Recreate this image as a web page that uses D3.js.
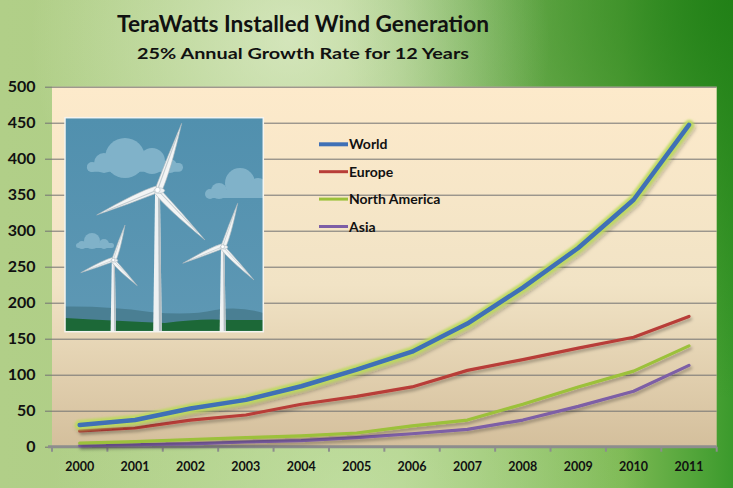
<!DOCTYPE html>
<html>
<head>
<meta charset="utf-8">
<script src="https://cdn.jsdelivr.net/npm/d3@7"></script>
<style>
    html, body { margin: 0; padding: 0; overflow: hidden; }
    svg { display: block; }
</style>
</head>
<body>
<svg id="chart_svg" width="733" height="488"></svg>
<script>
// Data
var years = ['2000', '2001', '2002', '2003', '2004', '2005', '2006', '2007', '2008', '2009', '2010', '2011'];
var world = [30, 37, 53, 65, 84, 107, 132, 171, 221, 276, 343, 447];
var europe = [22, 26, 37, 44, 59, 70, 83, 106, 121, 137, 152, 181];
var northAmerica = [5, 7, 10, 12.5, 15, 19, 29, 37, 59, 83, 105, 140];
var asia = [1.5, 3, 4, 6.5, 8.5, 12.5, 18, 24, 37, 56, 77, 113];
var yTicks = [0, 50, 100, 150, 200, 250, 300, 350, 400, 450, 500];
var seriesNames = ['World', 'Europe', 'North America', 'Asia'];
var titleText = 'TeraWatts Installed Wind Generation';
var subtitleText = '25% Annual Growth Rate for 12 Years';

var FONT = "Lato, 'Open Sans', sans-serif";

drawChart();

function drawChart(){
    // - - - - layout - - - -
    var W = 733, H = 488;
    var plot = {left: 52, right: 716.7, top: 86.7, bottom: 446.7};
    var colors = {
        'World': '#3f70b6',
        'Europe': '#b83e38',
        'North America': '#9cc13a',
        'Asia': '#7d5ea6'
    };
    var seriesValues = {
        'World': world,
        'Europe': europe,
        'North America': northAmerica,
        'Asia': asia
    };
    // - - - - - - - - - - -

    var svg = d3.select('#chart_svg');
    var defs = svg.append('defs');

    // background gradients
    var bg = defs.append('linearGradient').attr('id', 'bgBase')
        .attr('x1', 0).attr('y1', 0).attr('x2', 1).attr('y2', 0);
    bg.append('stop').attr('offset', 0).attr('stop-color', '#b1cf88');
    bg.append('stop').attr('offset', 0.55).attr('stop-color', '#aacd82');
    bg.append('stop').attr('offset', 0.85).attr('stop-color', '#7cb953');
    bg.append('stop').attr('offset', 1).attr('stop-color', '#3b9a2c');

    var dark = defs.append('radialGradient').attr('id', 'bgDark')
        .attr('gradientUnits', 'userSpaceOnUse')
        .attr('cx', 740).attr('cy', 0).attr('r', 400);
    dark.append('stop').attr('offset', 0).attr('stop-color', '#1e7d14').attr('stop-opacity', 0.9);
    dark.append('stop').attr('offset', 1).attr('stop-color', '#1e7d14').attr('stop-opacity', 0);

    var light = defs.append('radialGradient').attr('id', 'bgLight')
        .attr('gradientUnits', 'userSpaceOnUse')
        .attr('cx', 290).attr('cy', 40).attr('r', 260);
    light.append('stop').attr('offset', 0).attr('stop-color', '#eef5df').attr('stop-opacity', 0.6);
    light.append('stop').attr('offset', 1).attr('stop-color', '#eef5df').attr('stop-opacity', 0);

    var light2 = defs.append('radialGradient').attr('id', 'bgLight2')
        .attr('gradientUnits', 'userSpaceOnUse')
        .attr('cx', 350).attr('cy', 500).attr('r', 300);
    light2.append('stop').attr('offset', 0).attr('stop-color', '#d8efc0').attr('stop-opacity', 0.45);
    light2.append('stop').attr('offset', 1).attr('stop-color', '#d8efc0').attr('stop-opacity', 0);

    // plot area gradient
    var pg = defs.append('linearGradient').attr('id', 'plotBg')
        .attr('x1', 0).attr('y1', 0).attr('x2', 0).attr('y2', 1);
    pg.append('stop').attr('offset', 0).attr('stop-color', '#fdeacb');
    pg.append('stop').attr('offset', 0.55).attr('stop-color', '#f1e3c5');
    pg.append('stop').attr('offset', 1).attr('stop-color', '#d4bf9c');

    // line shadow
    var sh = defs.append('filter').attr('id', 'lineShadow')
        .attr('x', '-10%').attr('y', '-10%').attr('width', '130%').attr('height', '130%');
    sh.append('feDropShadow').attr('dx', 1.5).attr('dy', 2.5)
        .attr('stdDeviation', 1.8).attr('flood-color', '#000').attr('flood-opacity', 0.3);

    var glow = defs.append('filter').attr('id', 'glow')
        .attr('x', '-10%').attr('y', '-10%').attr('width', '130%').attr('height', '130%');
    glow.append('feGaussianBlur').attr('stdDeviation', 1);

    svg.append('rect').attr('width', W).attr('height', H).attr('fill', 'url(#bgBase)');
    svg.append('rect').attr('width', W).attr('height', H).attr('fill', 'url(#bgDark)');
    svg.append('rect').attr('width', W).attr('height', H).attr('fill', 'url(#bgLight)');
    svg.append('rect').attr('width', W).attr('height', H).attr('fill', 'url(#bgLight2)');

    // title
    svg.append('text')
        .attr('x', 303).attr('y', 32)
        .attr('text-anchor', 'middle')
        .attr('textLength', 372).attr('lengthAdjust', 'spacingAndGlyphs')
        .style('font-family', FONT).style('font-weight', 'bold').style('font-size', '22px')
        .attr('fill', '#111')
        .text(titleText);
    svg.append('text')
        .attr('x', 303).attr('y', 59)
        .attr('text-anchor', 'middle')
        .attr('textLength', 332).attr('lengthAdjust', 'spacingAndGlyphs')
        .style('font-family', FONT).style('font-weight', 'bold').style('font-size', '16px')
        .attr('fill', '#111')
        .text(subtitleText);

    // scales
    var x = d3.scaleBand().domain(years).range([plot.left, plot.right]).padding(0);
    var y = d3.scaleLinear().domain([0, 500]).range([plot.bottom, plot.top]);

    // plot area
    svg.append('rect')
        .attr('x', plot.left).attr('y', plot.top)
        .attr('width', plot.right - plot.left).attr('height', plot.bottom - plot.top)
        .attr('fill', 'url(#plotBg)');

    // grid + y labels
    var yAxis = svg.append('g')
        .attr('transform', 'translate(45,0)')
        .call(d3.axisLeft(y).tickValues(yTicks).tickSize(-(plot.right - 45)).tickPadding(9.5));
    yAxis.select('.domain').remove();
    yAxis.selectAll('line').attr('stroke', '#737373').attr('stroke-width', 1);
    yAxis.selectAll('text')
        .style('font-family', FONT).style('font-weight', 'bold').style('font-size', '16px')
        .attr('fill', '#111');

    // x axis
    svg.append('line')
        .attr('x1', 48).attr('x2', plot.right)
        .attr('y1', plot.bottom).attr('y2', plot.bottom)
        .attr('stroke', '#8d8d8d').attr('stroke-width', 3);
    var bounds = years.map(function(d){ return x(d); }).concat([plot.right]);
    svg.append('g').selectAll('line').data(bounds).join('line')
        .attr('x1', function(d){ return d; }).attr('x2', function(d){ return d; })
        .attr('y1', plot.bottom).attr('y2', plot.bottom + 5)
        .attr('stroke', '#8d8d8d').attr('stroke-width', 2);
    var xAxis = svg.append('g')
        .attr('transform', 'translate(0,' + plot.bottom + ')')
        .call(d3.axisBottom(x).tickSize(0).tickPadding(15));
    xAxis.select('.domain').remove();
    xAxis.selectAll('text')
        .style('font-family', FONT).style('font-weight', 'bold').style('font-size', '12.5px')
        .attr('fill', '#111');

    // picture
    drawPicture(svg, defs, 65, 117.7, 198.3, 214);

    // lines
    var line = d3.line()
        .x(function(d, i){ return x(years[i]) + x.bandwidth() / 2; })
        .y(function(d){ return y(d); });

    var order = ['Asia', 'North America', 'Europe'];
    order.forEach(function(name){
        svg.append('path')
            .datum(seriesValues[name])
            .attr('d', line)
            .attr('fill', 'none')
            .attr('stroke', colors[name])
            .attr('stroke-width', 3.2)
            .attr('stroke-linejoin', 'round').attr('stroke-linecap', 'round')
            .attr('filter', 'url(#lineShadow)');
    });
    // World with green glow
    var wg = svg.append('g').attr('filter', 'url(#lineShadow)');
    wg.append('path')
        .datum(world)
        .attr('d', line)
        .attr('fill', 'none')
        .attr('stroke', '#bcdc5c')
        .attr('stroke-width', 10)
        .attr('stroke-opacity', 0.9)
        .attr('stroke-linejoin', 'round').attr('stroke-linecap', 'round')
        .attr('filter', 'url(#glow)');
    wg.append('path')
        .datum(world)
        .attr('d', line)
        .attr('fill', 'none')
        .attr('stroke', colors['World'])
        .attr('stroke-width', 4.5)
        .attr('stroke-linejoin', 'round').attr('stroke-linecap', 'round');

    // legend
    var legend = svg.append('g').attr('transform', 'translate(319,144.3)');
    var items = legend.selectAll('g').data(seriesNames).join('g')
        .attr('transform', function(d, i){ return 'translate(0,' + (i * 27.4) + ')'; });
    items.append('line')
        .attr('x1', 0).attr('x2', 29)
        .attr('stroke', function(d){ return colors[d]; })
        .attr('stroke-width', function(d){ return d === 'World' ? 4 : 3; });
    items.append('text')
        .attr('x', 30).attr('y', 5)
        .style('font-family', FONT).style('font-weight', 'bold').style('font-size', '14px')
        .attr('fill', '#111')
        .text(function(d){ return d; });
}


// wind turbine picture inside the plot
function drawPicture(svg, defs, px, py, pw, ph){
    defs.append('clipPath').attr('id', 'picClip')
        .append('rect').attr('x', px).attr('y', py).attr('width', pw).attr('height', ph);

    var sky = defs.append('linearGradient').attr('id', 'skyBg')
        .attr('x1', 0).attr('y1', 0).attr('x2', 0).attr('y2', 1);
    sky.append('stop').attr('offset', 0).attr('stop-color', '#5190ae');
    sky.append('stop').attr('offset', 1).attr('stop-color', '#5e98b4');

    var g = svg.append('g').attr('clip-path', 'url(#picClip)');
    g.append('rect').attr('x', px).attr('y', py).attr('width', pw).attr('height', ph)
        .attr('fill', 'url(#skyBg)');

    // clouds
    var cloudColor = '#80b2c9';
    var clouds = [
        {circles: [[125, 158, 20], [104, 163, 10], [152, 161, 13], [170, 166, 7], [92, 167, 5]], base: [87, 163, 96, 8.7]},
        {circles: [[240, 183, 15], [219, 191, 8], [258, 188, 10], [210, 194, 5]], base: [206, 190, 60, 8]},
        {circles: [[92, 241, 8], [104, 244, 5], [82, 245, 4]], base: [76, 243, 38, 5]}
    ];
    clouds.forEach(function(c){
        c.circles.forEach(function(k){
            g.append('circle').attr('cx', k[0]).attr('cy', k[1]).attr('r', k[2]).attr('fill', cloudColor);
        });
        g.append('rect').attr('x', c.base[0]).attr('y', c.base[1])
            .attr('width', c.base[2]).attr('height', c.base[3])
            .attr('rx', c.base[3] / 2).attr('fill', cloudColor);
    });

    // hills
    var bottom = py + ph;
    g.append('path')
        .attr('d', 'M' + px + ',306.5 Q110,306 150,312 Q190,316 215,310 Q240,306 ' + (px + pw) + ',313 L' + (px + pw) + ',' + bottom + ' L' + px + ',' + bottom + ' Z')
        .attr('fill', '#4a7f93');
    g.append('path')
        .attr('d', 'M' + px + ',318 Q120,321 165,323 Q200,318 230,320 Q250,320 ' + (px + pw) + ',320 L' + (px + pw) + ',' + bottom + ' L' + px + ',' + bottom + ' Z')
        .attr('fill', '#1c6837');

    // turbines
    drawTurbine(g, 113.3, 260, [[125, 225], [80.7, 272.7], [137.3, 285.7]], bottom, 0.75);
    drawTurbine(g, 222.7, 246.7, [[237.7, 203.3], [182.7, 263.3], [254, 280]], bottom, 0.85);
    drawTurbine(g, 157.5, 190, [[181.7, 123.3], [96.7, 215], [205, 240]], bottom, 1.2);

    // white frame
    svg.append('rect').attr('x', px).attr('y', py).attr('width', pw).attr('height', ph)
        .attr('fill', 'none').attr('stroke', '#f4f4f0').attr('stroke-width', 1.5);
}

function drawTurbine(g, hx, hy, tips, bottom, s){
    // tower
    g.append('path')
        .attr('d', 'M' + (hx - 2 * s) + ',' + hy + ' L' + (hx + 2 * s) + ',' + hy +
              ' L' + (hx + 3.6 * s) + ',' + bottom + ' L' + (hx - 3.6 * s) + ',' + bottom + ' Z')
        .attr('fill', '#eef1f2');
    g.append('path')
        .attr('d', 'M' + (hx + 0.4 * s) + ',' + hy + ' L' + (hx + 2 * s) + ',' + hy +
              ' L' + (hx + 3.6 * s) + ',' + bottom + ' L' + (hx + 1.2 * s) + ',' + bottom + ' Z')
        .attr('fill', '#b3bdc2');

    // blades
    tips.forEach(function(t){
        var dx = t[0] - hx, dy = t[1] - hy;
        var len = Math.sqrt(dx * dx + dy * dy);
        var ux = dx / len, uy = dy / len;
        var nx = -uy, ny = ux;
        var w = 3.6 * s;
        var p1 = [hx + nx * w, hy + ny * w];
        var c1 = [hx + ux * len * 0.3 + nx * w * 1.4, hy + uy * len * 0.3 + ny * w * 1.4];
        var p2 = [hx - nx * w * 0.6, hy - ny * w * 0.6];
        var c2 = [hx + ux * len * 0.5 - nx * w * 0.5, hy + uy * len * 0.5 - ny * w * 0.5];
        g.append('path')
            .attr('d', 'M' + p1 + ' Q' + c1 + ' ' + t + ' Q' + c2 + ' ' + p2 + ' Z')
            .attr('fill', '#f3f5f5')
            .attr('stroke', '#a9b5bb').attr('stroke-width', 0.6)
            .attr('stroke-linejoin', 'round');
        g.append('line')
            .attr('x1', hx).attr('y1', hy)
            .attr('x2', hx + dx * 0.85).attr('y2', hy + dy * 0.85)
            .attr('stroke', '#c3ccd0').attr('stroke-width', 0.9 * s);
    });

    // nacelle and hub
    g.append('ellipse').attr('cx', hx + 1.5 * s).attr('cy', hy + 0.5 * s)
        .attr('rx', 4.5 * s).attr('ry', 2.3 * s)
        .attr('fill', '#eef1f2').attr('stroke', '#a9b5bb').attr('stroke-width', 0.5);
    g.append('circle').attr('cx', hx).attr('cy', hy).attr('r', 2.2 * s)
        .attr('fill', '#ffffff').attr('stroke', '#a9b5bb').attr('stroke-width', 0.5);
}
</script>
</body>
</html>
